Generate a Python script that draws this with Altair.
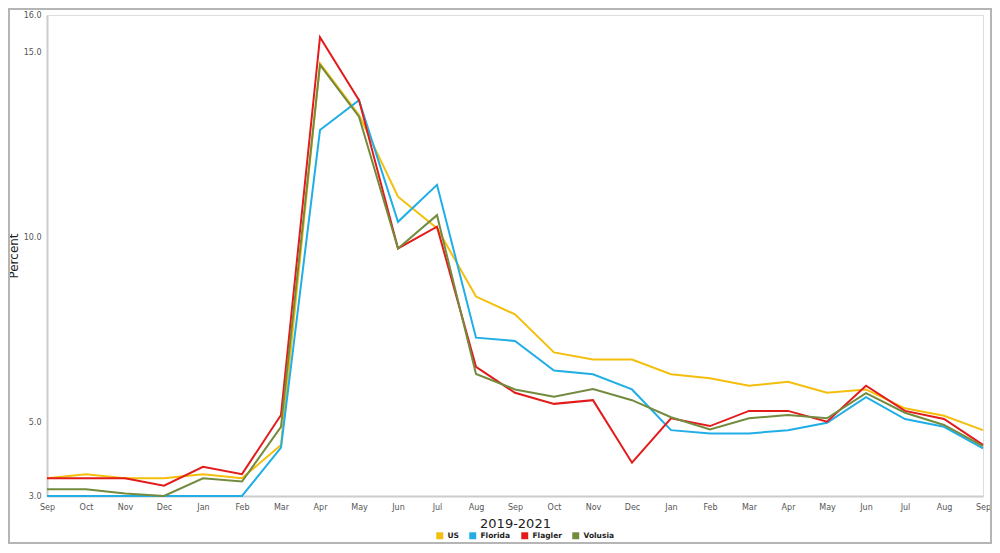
import altair as alt
import pandas as pd

months = ["Sep", "Oct", "Nov", "Dec", "Jan", "Feb", "Mar", "Apr", "May", "Jun", "Jul", "Aug",
          "Sep", "Oct", "Nov", "Dec", "Jan", "Feb", "Mar", "Apr", "May", "Jun", "Jul", "Aug", "Sep"]
years = [2019] * 4 + [2020] * 12 + [2021] * 9

series_names = ["US", "Florida", "Flagler", "Volusia"]
series_colors = ["#F4BE0C", "#21AEE6", "#E31B1B", "#738B3E"]

us = [3.48, 3.59, 3.48, 3.48, 3.59, 3.48, 4.38, 14.69, 13.30, 11.09, 10.24, 8.39, 7.91,
      6.88, 6.69, 6.69, 6.29, 6.18, 5.98, 6.09, 5.79, 5.88, 5.37, 5.17, 4.78]
florida = [3.0, 3.0, 3.0, 3.0, 3.0, 3.0, 4.31, 12.89, 13.70, 10.41, 11.41, 7.28, 7.19,
           6.39, 6.29, 5.88, 4.78, 4.69, 4.69, 4.78, 4.98, 5.67, 5.08, 4.87, 4.29]
flagler = [3.48, 3.48, 3.48, 3.28, 3.79, 3.59, 5.19, 15.40, 13.70, 9.69, 10.28, 6.49, 5.79,
           5.49, 5.59, 3.90, 5.10, 4.89, 5.30, 5.30, 5.01, 5.98, 5.30, 5.08, 4.38]
volusia = [3.18, 3.18, 3.07, 3.0, 3.48, 3.39, 4.87, 14.65, 13.25, 9.69, 10.59, 6.30, 5.88,
           5.68, 5.89, 5.59, 5.13, 4.80, 5.10, 5.19, 5.10, 5.78, 5.25, 4.92, 4.35]

y_ticks = [3, 5, 10, 15, 16]

keys = [f"{m} {y}" for m, y in zip(months, years)]
rows = []
for name, vals in zip(series_names, [us, florida, flagler, volusia]):
    for i, (k, v) in enumerate(zip(keys, vals)):
        rows.append({"key": k, "series": name, "value": v, "idx": i})
df = pd.DataFrame(rows)

FONT = "DejaVu Sans"

lines = alt.Chart(df).mark_line(strokeWidth=2).encode(
    x=alt.X("key:N", sort=keys,
            scale=alt.Scale(type="point", padding=0),
            axis=alt.Axis(title="2019-2021", labelExpr="split(datum.label, ' ')[0]",
                          labelAngle=0, ticks=False, domainColor="#cccccc", domainWidth=2,
                          labelColor="#555555", labelFontSize=8, labelFont=FONT, labelPadding=7,
                          titleFont=FONT, titleFontSize=13, titleFontWeight="normal",
                          titleColor="#222222", titlePadding=6, grid=False)),
    y=alt.Y("value:Q",
            scale=alt.Scale(domain=[3, 16], nice=False, zero=False),
            axis=alt.Axis(title="Percent", values=y_ticks, format=".1f", ticks=False,
                          domainColor="#cccccc", domainWidth=2, labelColor="#555555",
                          labelFontSize=8, labelFont=FONT, labelPadding=6,
                          titleFont=FONT, titleFontSize=12, titleFontWeight="normal",
                          titleColor="#222222", titlePadding=3, grid=False)),
    color=alt.Color("series:N",
                    scale=alt.Scale(domain=series_names, range=series_colors),
                    legend=alt.Legend(title=None, orient="none", legendX=389, legendY=517,
                                      direction="horizontal", symbolType="square",
                                      symbolSize=6, symbolStrokeWidth=4.5, symbolOpacity=1,
                                      labelFont=FONT, labelFontSize=7.5, labelFontWeight="bold",
                                      labelColor="#222222", columnPadding=3, labelOffset=4)),
    order=alt.Order("idx:Q"),
)

border = alt.Chart(pd.DataFrame({"a": [0]})).mark_rect(
    fill=None, stroke="#b5b5b5", strokeWidth=2
).encode(
    x=alt.value(-38), x2=alt.value(944), y=alt.value(-6), y2=alt.value(528)
)

chart = alt.layer(border, lines).properties(
    width=936, height=481,
    autosize=alt.AutoSizeParams(type="none"),
    padding={"left": 39, "top": 7, "right": 9, "bottom": 48},
).configure_view(stroke=None).configure(background="white")

chart.save("out.html", embed_options={"renderer": "svg", "actions": False})
